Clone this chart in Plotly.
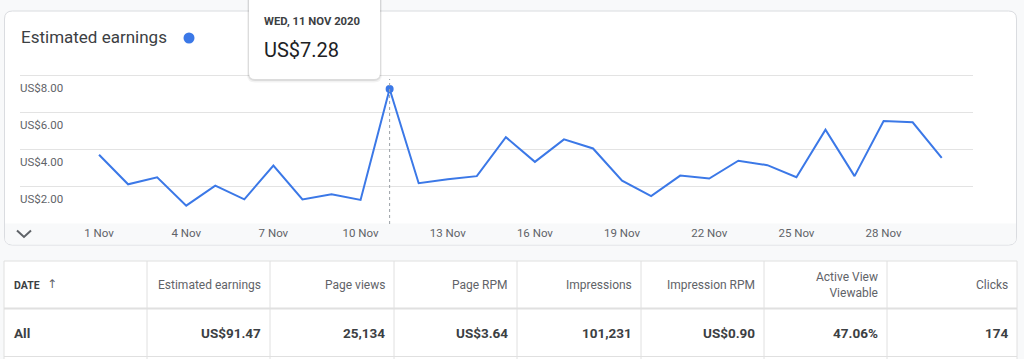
import plotly.graph_objects as go

W, H = 1024, 359
FONT = "Roboto, Arial, sans-serif"
BLUE = "#3b78e7"
GREY_TXT = "#5f6368"
DARK_TXT = "#3c4043"
GRID = "#e3e3e3"
TABLE_LINE = "#e0e0e0"

# ---------------- data ----------------
dates = ["2020-11-01", "2020-11-02", "2020-11-03", "2020-11-04", "2020-11-05",
         "2020-11-06", "2020-11-07", "2020-11-08", "2020-11-09", "2020-11-10",
         "2020-11-11", "2020-11-12", "2020-11-13", "2020-11-14", "2020-11-15",
         "2020-11-16", "2020-11-17", "2020-11-18", "2020-11-19", "2020-11-20",
         "2020-11-21", "2020-11-22", "2020-11-23", "2020-11-24", "2020-11-25",
         "2020-11-26", "2020-11-27", "2020-11-28", "2020-11-29", "2020-11-30"]
earnings = [3.73, 2.14, 2.52, 0.99, 2.07, 1.33, 3.15, 1.32, 1.60, 1.30,
            7.28, 2.20, 2.41, 2.58, 4.68, 3.35, 4.56, 4.07, 2.34, 1.50,
            2.61, 2.45, 3.41, 3.17, 2.52, 5.08, 2.58, 5.55, 5.48, 3.57]
x_tick_dates = ["2020-11-01", "2020-11-04", "2020-11-07", "2020-11-10",
                "2020-11-13", "2020-11-16", "2020-11-19", "2020-11-22",
                "2020-11-25", "2020-11-28"]
x_tick_labels = ["1 Nov", "4 Nov", "7 Nov", "10 Nov", "13 Nov", "16 Nov",
                 "19 Nov", "22 Nov", "25 Nov", "28 Nov"]
y_tick_values = [2, 4, 6, 8]
y_tick_labels = ["US$2.00", "US$4.00", "US$6.00", "US$8.00"]
highlight_index = 10
tooltip_date_label = "WED, 11 NOV 2020"

table_columns = ["DATE", "Estimated earnings", "Page views", "Page RPM",
                 "Impressions", "Impression RPM", "Active View<br>Viewable", "Clicks"]
table_totals = ["All", "US$91.47", "25,134", "US$3.64", "101,231",
                "US$0.90", "47.06%", "174"]

# ---------------- layout geometry (pixels) ----------------
col_edges = [4, 147, 270, 394, 517, 641, 764, 887, 1017]
table_top, header_bottom, row_bottom = 261, 308.5, 356.5
header_cy, row_cy = 285, 333


def px(x):
    return x / W


def py(y):
    return 1 - y / H


def rrect(x0, y0, x1, y1, r, top=True, bottom=True):
    rt = r if top else 0
    rb = r if bottom else 0
    pts = [f"M {px(x0 + rt)},{py(y0)}", f"L {px(x1 - rt)},{py(y0)}"]
    if rt:
        pts.append(f"Q {px(x1)},{py(y0)} {px(x1)},{py(y0 + rt)}")
    pts.append(f"L {px(x1)},{py(y1 - rb)}")
    if rb:
        pts.append(f"Q {px(x1)},{py(y1)} {px(x1 - rb)},{py(y1)}")
    pts.append(f"L {px(x0 + rb)},{py(y1)}")
    if rb:
        pts.append(f"Q {px(x0)},{py(y1)} {px(x0)},{py(y1 - rb)}")
    pts.append(f"L {px(x0)},{py(y0 + rt)}")
    if rt:
        pts.append(f"Q {px(x0)},{py(y0)} {px(x0 + rt)},{py(y0)}")
    pts.append("Z")
    return " ".join(pts)


fig = go.Figure()

fig.add_trace(go.Scatter(
    x=dates, y=earnings, mode="lines",
    line=dict(color=BLUE, width=2), hoverinfo="skip"))
fig.add_trace(go.Scatter(
    x=[dates[highlight_index]], y=[earnings[highlight_index]], mode="markers",
    marker=dict(color=BLUE, size=8), hoverinfo="skip"))

shapes = [
    # card
    dict(type="path", xref="paper", yref="paper", layer="below",
         path=rrect(4.5, 11, 1016.5, 245, 8),
         fillcolor="white", line=dict(color="#dadce0", width=1)),
    # x-axis band
    dict(type="path", xref="paper", yref="paper", layer="below",
         path=rrect(5, 223.5, 1016, 244.5, 7, top=False),
         fillcolor="#f8f9fa", line=dict(width=0)),
    # legend dot
    dict(type="circle", xref="paper", yref="paper",
         x0=px(183.5), x1=px(194.5), y0=py(43.5), y1=py(32.5),
         fillcolor=BLUE, line=dict(width=0)),
    # chevron
    dict(type="path", xref="paper", yref="paper",
         path=f"M {px(17)},{py(230.5)} L {px(24)},{py(237)} L {px(31)},{py(230.5)}",
         line=dict(color=GREY_TXT, width=2)),
    # hover guide line
    dict(type="line", xref="x", yref="paper",
         x0=dates[highlight_index], x1=dates[highlight_index],
         y0=py(224), y1=py(79),
         line=dict(color="#9aa0a6", width=1, dash="dot")),
    # tooltip shadow + box
    dict(type="path", xref="paper", yref="paper",
         path=rrect(247, -8, 382, 82.5, 8),
         fillcolor="rgba(0,0,0,0.05)", line=dict(width=0)),
    dict(type="path", xref="paper", yref="paper",
         path=rrect(248, -8, 381, 81, 7),
         fillcolor="rgba(0,0,0,0.09)", line=dict(width=0)),
    dict(type="path", xref="paper", yref="paper",
         path=rrect(249, -8, 380, 79, 6),
         fillcolor="white", line=dict(width=0)),
    # table background
    dict(type="rect", xref="paper", yref="paper", layer="below",
         x0=px(col_edges[0]), x1=px(col_edges[-1]), y0=py(H + 5), y1=py(table_top),
         fillcolor="white", line=dict(color=TABLE_LINE, width=1)),
    dict(type="line", xref="paper", yref="paper",
         x0=px(col_edges[0]), x1=px(col_edges[-1]),
         y0=py(header_bottom), y1=py(header_bottom),
         line=dict(color=TABLE_LINE, width=2)),
    dict(type="line", xref="paper", yref="paper",
         x0=px(col_edges[0]), x1=px(col_edges[-1]),
         y0=py(row_bottom), y1=py(row_bottom),
         line=dict(color=TABLE_LINE, width=1)),
]
for xe in col_edges[1:-1]:
    shapes.append(dict(type="line", xref="paper", yref="paper",
                       x0=px(xe), x1=px(xe), y0=py(table_top), y1=py(H + 5),
                       line=dict(color=TABLE_LINE, width=1)))

annotations = [
    dict(text="Estimated earnings", xref="paper", yref="paper",
         x=px(19), y=py(37), xanchor="left", yanchor="middle", showarrow=False,
         font=dict(family=FONT, size=17, color=DARK_TXT)),
    dict(text=f"<b>{tooltip_date_label}</b>", xref="paper", yref="paper",
         x=px(262), y=py(21), xanchor="left", yanchor="middle", showarrow=False,
         font=dict(family=FONT, size=11.3, color=DARK_TXT)),
    dict(text=f"US${earnings[highlight_index]:.2f}", xref="paper", yref="paper",
         x=px(262), y=py(50), xanchor="left", yanchor="middle", showarrow=False,
         font=dict(family=FONT, size=20, color="#202124")),
    # sort arrow in DATE header
    dict(text="↑", xref="paper", yref="paper",
         x=px(52), y=py(284), xanchor="center", yanchor="middle", showarrow=False,
         font=dict(family="DejaVu Sans, sans-serif", size=12, color=GREY_TXT)),
]
for v, lab in zip(y_tick_values, y_tick_labels):
    annotations.append(dict(
        text=lab, xref="paper", yref="y", x=px(18), y=v,
        xanchor="left", yanchor="middle", yshift=-12.5, showarrow=False,
        font=dict(family=FONT, size=11.5, color=GREY_TXT)))

# table texts
for i, (head, total) in enumerate(zip(table_columns, table_totals)):
    left, right = col_edges[i], col_edges[i + 1]
    if i == 0:
        annotations.append(dict(
            text=f"<b>{head}</b>", xref="paper", yref="paper",
            x=px(left + 8), y=py(header_cy), xanchor="left", yanchor="middle",
            showarrow=False, font=dict(family=FONT, size=10.5, color=DARK_TXT)))
        annotations.append(dict(
            text=f"<b>{total}</b>", xref="paper", yref="paper",
            x=px(left + 8), y=py(row_cy), xanchor="left", yanchor="middle",
            showarrow=False, font=dict(family=FONT, size=13.5, color=DARK_TXT)))
    else:
        annotations.append(dict(
            text=head, xref="paper", yref="paper", align="right",
            x=px(right - 7.5), y=py(header_cy), xanchor="right", yanchor="middle",
            showarrow=False, font=dict(family=FONT, size=12, color=GREY_TXT)))
        annotations.append(dict(
            text=f"<b>{total}</b>", xref="paper", yref="paper",
            x=px(right - 7.5), y=py(row_cy), xanchor="right", yanchor="middle",
            showarrow=False, font=dict(family=FONT, size=13.5, color=DARK_TXT)))

fig.update_layout(
    width=W, height=H,
    margin=dict(l=0, r=0, t=0, b=0),
    paper_bgcolor="#f8f9fa",
    plot_bgcolor="rgba(0,0,0,0)",
    showlegend=False,
    shapes=shapes,
    annotations=annotations,
    font=dict(family=FONT),
    xaxis=dict(
        type="date",
        domain=[px(20), px(973)],
        range=["2020-10-29 06:43", "2020-12-01 01:50"],
        tickvals=x_tick_dates, ticktext=x_tick_labels,
        showgrid=False, zeroline=False, showline=False, ticks="",
        tickfont=dict(family=FONT, size=11.5, color=GREY_TXT),
        fixedrange=True,
    ),
    yaxis=dict(
        domain=[py(224), py(57)],
        range=[0, 9],
        tickvals=y_tick_values,
        showticklabels=False,
        showgrid=True, gridcolor=GRID, gridwidth=1,
        zeroline=False, showline=False,
        fixedrange=True,
    ),
)

fig.write_html("out.html", config={"displayModeBar": False},
               post_script="document.body.style.margin='0';document.body.style.padding='0';")
